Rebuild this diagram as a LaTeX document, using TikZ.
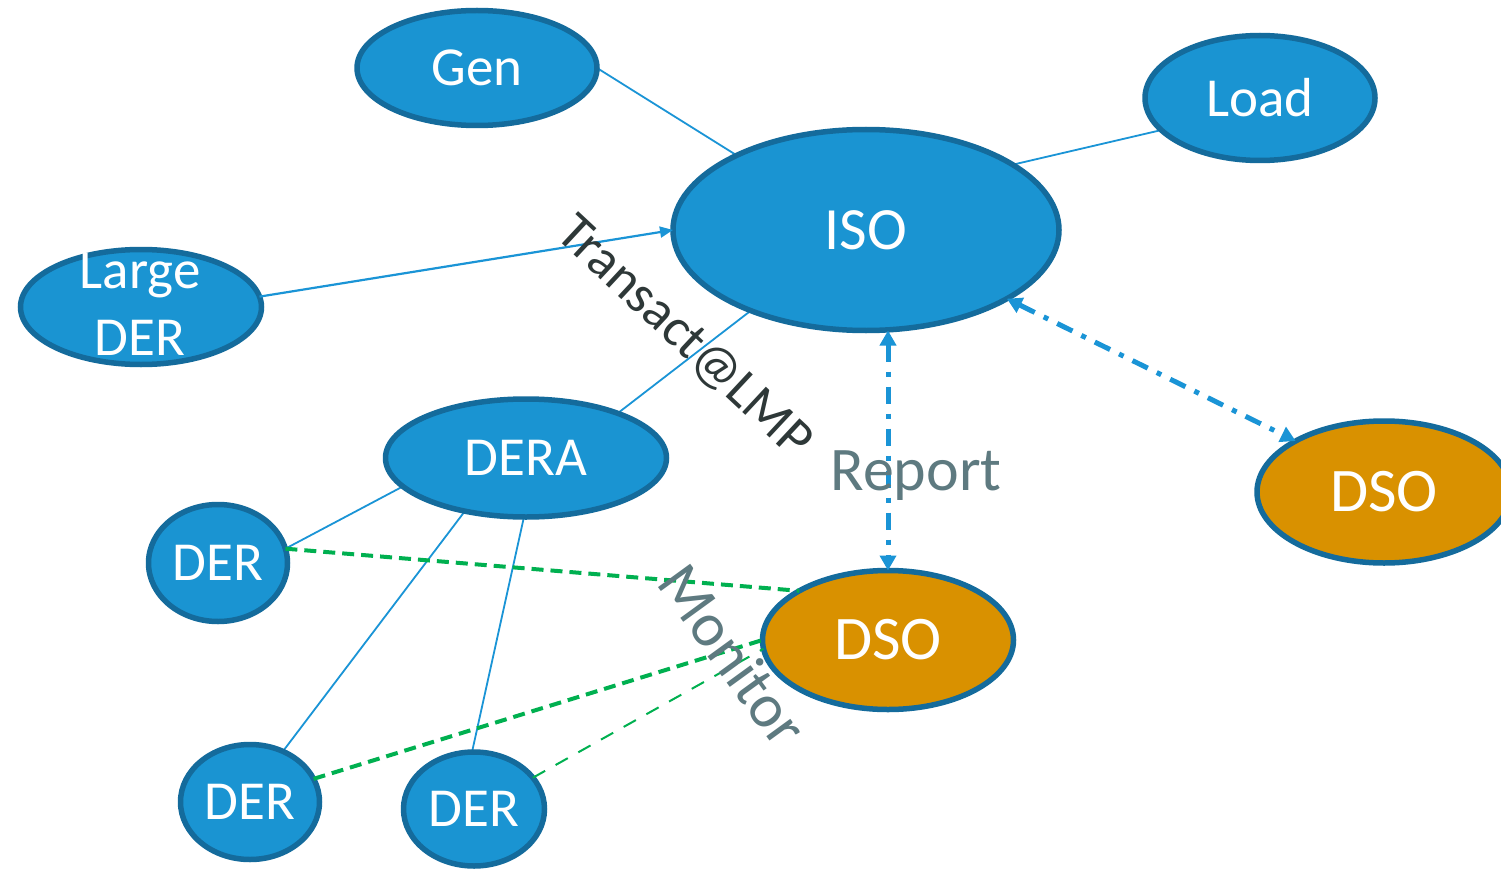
\documentclass[tikz,border=0pt]{standalone}
\usepackage{fontspec}
\setmainfont{Carlito}
\usetikzlibrary{shapes.geometric,arrows.meta,backgrounds}
\definecolor{nodefill}{HTML}{1A94D2}
\definecolor{nodeedge}{HTML}{146B9C}
\definecolor{dsofill}{HTML}{D99100}
\definecolor{linkblue}{HTML}{1A94D6}
\definecolor{mongreen}{HTML}{00B050}
\definecolor{graytext}{HTML}{5E7A80}
\definecolor{darktext}{HTML}{2E3838}
\begin{document}
\begin{tikzpicture}[x=1pt,y=-1pt,
  ell/.style={ellipse, draw=nodeedge, line width=5.5pt, fill=nodefill, text=white, inner sep=0pt, outer sep=0pt},
  dso/.style={ell, fill=dsofill},
  fbig/.style={font=\fontsize{55}{67}\selectfont},
  fiso/.style={font=\fontsize{60}{72}\selectfont},
  fdso/.style={font=\fontsize{62}{72}\selectfont},
  link/.style={draw=linkblue, line width=1.8pt},
  monthick/.style={draw=mongreen, line width=4pt, dash pattern=on 12pt off 7pt},
  monthin/.style={draw=mongreen, line width=2pt, dash pattern=on 14pt off 12pt},
  dashdot/.style={draw=linkblue, line width=5pt, dash pattern=on 17pt off 10pt on 5pt off 10pt,
     {Triangle[length=15pt 0,width=16pt 0]}-{Triangle[length=15pt 0,width=16pt 0]}},
  lbl/.style={inner sep=0pt}
]
\useasboundingbox (0,0) rectangle (1501,869);
\begin{pgfonlayer}{background}
\fill[white] (0,0) rectangle (1501,869);
\end{pgfonlayer}
\clip (0,0) rectangle (1501,869);

% nodes
\node[ell, fiso, minimum width=386pt, minimum height=201pt] (ISO) at (866,230) {ISO};
\node[ell, fbig, minimum width=240pt, minimum height=115pt] (Gen) at (477,68) {Gen};
\node[ell, fbig, minimum width=230pt, minimum height=125pt] (Load) at (1260,98) {Load};
\node[ell, minimum width=241pt, minimum height=115pt] (LDER) at (141,307) {};
\node[lbl, fbig, text=white, align=center] (LDERtext) at (140,304) {Large\\DER};
\node[ell, fbig, minimum width=281pt, minimum height=118pt] (DERA) at (526,458) {DERA};
\node[ell, fbig, minimum width=139pt, minimum height=117pt] (DER1) at (218,563) {DER};
\node[ell, fbig, minimum width=139pt, minimum height=115pt] (DER2) at (250,802) {DER};
\node[ell, fbig, minimum width=141pt, minimum height=114pt] (DER3) at (474,809) {DER};
\node[dso, fdso, minimum width=251pt, minimum height=139pt] (DSO) at (888,640) {DSO};
\node[dso, fdso, minimum width=254pt, minimum height=142pt] (DSO2) at (1384,492) {DSO};

% plain links behind nodes
\begin{scope}[on background layer]
\draw[link] (Gen.east) -- (ISO.150);
\draw[link] (Load.198) -- (ISO.24);
\draw[link] (DERA.26) -- (ISO.215);
\draw[link] (DER1.12) -- (DERA.193);
\draw[link] (DER2.57) -- (DERA.221);
\draw[link] (DER3.92) -- (DERA.268);
\end{scope}

% arrows and monitor links
\draw[link, line width=2.2pt, -{Triangle[length=13pt 0,width=11pt 0]}] (LDER.5) -- (ISO.west);
\draw[monthick] (DER1.12) -- (DSO.151);
\draw[monthick] (DER2.20) -- (DSO.west);
\draw[monthin] (DER3.28) -- (DSO.184);
\draw[dashdot] (ISO.south -| DSO.north) -- (DSO.north);
\draw[dashdot] (ISO.-26) -- (DSO2.150);

% labels
\node[lbl, rotate=-43, text=darktext, font=\fontsize{54}{60}\selectfont] (transact) at (684,338) {Transact@LMP};
\node[lbl, anchor=base, text=graytext, font=\fontsize{62}{70}\selectfont] (report) at (916,490) {Report};
\node[lbl, rotate=-54, text=graytext, font=\fontsize{62}{70}\selectfont] (monitor) at (733,655) {Monitor};
\end{tikzpicture}
\end{document}
